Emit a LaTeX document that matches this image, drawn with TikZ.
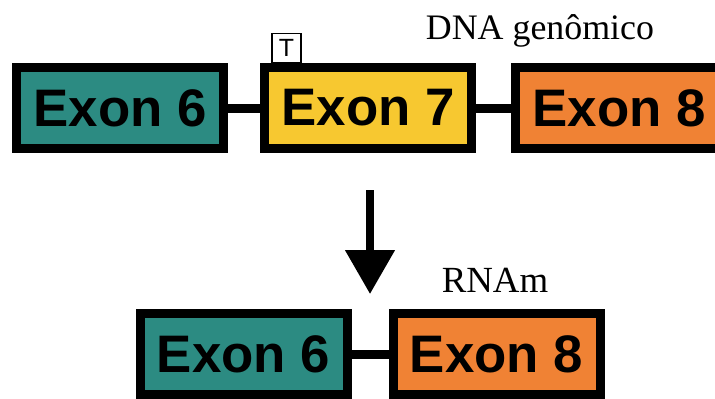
\documentclass[tikz,border=0pt]{standalone}
\usepackage{fontspec}
\setmainfont{Liberation Serif}
\newfontfamily\exonfont{Liberation Sans}
\usepackage{tikz}
\usetikzlibrary{positioning,arrows.meta}
\definecolor{exonteal}{RGB}{44,139,130}
\definecolor{exonyellow}{RGB}{247,200,48}
\definecolor{exonorange}{RGB}{240,130,52}

\begin{document}
\begin{tikzpicture}[x=1bp,y=-1bp,
  exon/.style={draw=black,line width=9bp,minimum width=207bp,minimum height=81bp,
    inner sep=0pt,font=\exonfont\bfseries\fontsize{53}{60}\selectfont},
  intron/.style={line width=9bp},
  mut/.style={draw=black,line width=1.5bp,minimum width=29bp,minimum height=29bp,
    inner sep=0pt,font=\exonfont\fontsize{25}{28}\selectfont}]
\useasboundingbox (0,0) rectangle (715,398);
% genomic DNA
\node[exon,fill=exonteal] (dna6) at (120,108) {Exon 6};
\node[exon,fill=exonyellow,right=32bp of dna6] (dna7) {Exon 7};
\node[exon,fill=exonorange,right=35bp of dna7] (dna8) {Exon 8};
\draw [intron] (dna6) -- (dna7);
\draw [intron] (dna7) -- (dna8);
\node[mut,anchor=south] (mutT) at (286.5,63) {T};
\node (dnalabel) at (540,31) {\fontsize{36}{40}\selectfont DNA genômico};
% splicing
\coordinate (arrtop) at (370,190);
\coordinate (arrtip) at (370,294);
\draw [line width=8bp,-{Triangle[width=48bp,length=44bp]}] (arrtop) -- (arrtip);
% mRNA
\node[exon,fill=exonteal] (rna6) at (243.5,354) {Exon 6};
\node[exon,fill=exonorange,right=37bp of rna6] (rna8) {Exon 8};
\draw [intron] (rna6) -- (rna8);
\node (rnalabel) at (495,280) {\fontsize{37}{40}\selectfont RNAm};
\end{tikzpicture}
\end{document}
